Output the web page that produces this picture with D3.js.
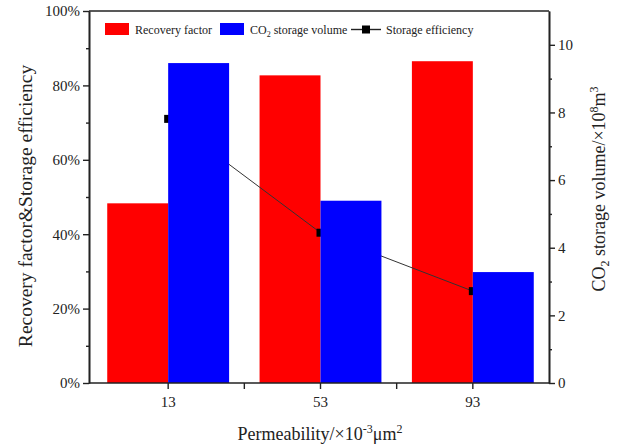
<!DOCTYPE html>
<html>
<head>
<meta charset="utf-8">
<script src="https://cdn.jsdelivr.net/npm/d3@7"></script>
<style>
  body { margin: 0; background: #fff; }
  svg text { font-family: "Liberation Serif", "Times New Roman", serif; fill: #222; }
</style>
</head>
<body>
<script>
const CATEGORIES = ['13', '53', '93'];
const RECOVERY = [48.3, 82.7, 86.5];        // %
const CO2_VOLUME = [9.46, 5.39, 3.28];      // x10^8 m^3
const EFFICIENCY = [71.0, 40.4, 24.7];      // %
const LEFT_TICKS = [0, 20, 40, 60, 80, 100];
const RIGHT_TICKS = [0, 2, 4, 6, 8, 10];

const SVG_DIM = {W: 617, H: 447};
const PLOT = {LEFT: 89, RIGHT: 549, TOP: 11, BOTTOM: 383};

const svg = d3.select('body').append('svg')
    .attr('width', SVG_DIM.W)
    .attr('height', SVG_DIM.H);

// categories sit slightly right of centre in the original
const x = d3.scaleBand()
    .domain(CATEGORIES)
    .range([PLOT.LEFT + 3, PLOT.RIGHT]);

const barW = x.bandwidth() * 0.4;

const yLeft = d3.scaleLinear().domain([0, 100]).range([PLOT.BOTTOM, PLOT.TOP]);
const yRight = d3.scaleLinear().domain([0, 11]).range([PLOT.BOTTOM, PLOT.TOP]);

const cx = d => x(d) + x.bandwidth() / 2;

// red bars first
svg.append('g').selectAll('rect')
    .data(RECOVERY)
    .enter()
    .append('rect')
    .attr('x', (d, i) => cx(CATEGORIES[i]) - barW)
    .attr('y', d => yLeft(d))
    .attr('width', barW)
    .attr('height', d => yLeft(0) - yLeft(d))
    .attr('fill', '#ff0000');

// efficiency line, drawn under the blue bars
const line = d3.line()
    .x((d, i) => cx(CATEGORIES[i]))
    .y(d => yLeft(d));

svg.append('path')
    .datum(EFFICIENCY)
    .attr('d', line)
    .attr('fill', 'none')
    .attr('stroke', '#333')
    .attr('stroke-width', 1);

svg.append('g').selectAll('rect')
    .data(EFFICIENCY)
    .enter()
    .append('rect')
    .attr('x', (d, i) => cx(CATEGORIES[i]) - 4)
    .attr('y', d => yLeft(d) - 4)
    .attr('width', 8)
    .attr('height', 8)
    .attr('fill', '#000');

// blue bars
svg.append('g').selectAll('rect')
    .data(CO2_VOLUME)
    .enter()
    .append('rect')
    .attr('x', (d, i) => cx(CATEGORIES[i]))
    .attr('y', d => yRight(d))
    .attr('width', barW)
    .attr('height', d => yRight(0) - yRight(d))
    .attr('fill', '#0000ff');

// axes
const leftAxis = d3.axisLeft(yLeft)
    .tickValues(LEFT_TICKS)
    .tickFormat(d => d + '%')
    .tickSize(6)
    .tickSizeOuter(0);
const leftMinor = d3.axisLeft(yLeft)
    .tickValues(d3.range(10, 100, 20))
    .tickFormat('')
    .tickSize(3)
    .tickSizeOuter(0);

const rightAxis = d3.axisRight(yRight)
    .tickValues(RIGHT_TICKS)
    .tickSize(6)
    .tickSizeOuter(0);
const rightMinor = d3.axisRight(yRight)
    .tickValues(d3.range(1, 11, 2))
    .tickFormat('')
    .tickSize(3)
    .tickSizeOuter(0);

const bottomAxis = d3.axisBottom(x)
    .tickSize(6)
    .tickSizeOuter(0);

const styleAxis = g => {
    g.select('.domain').attr('stroke', '#222').attr('stroke-width', 1.6);
    g.selectAll('.tick line').attr('stroke', '#222').attr('stroke-width', 1.4);
    g.selectAll('.tick text').attr('font-size', 15).attr('fill', '#222')
        .style('font-family', '"Liberation Serif", "Times New Roman", serif');
};

svg.append('g').attr('transform', 'translate(' + PLOT.LEFT + ',0)').call(leftAxis).call(styleAxis);
svg.append('g').attr('transform', 'translate(' + PLOT.LEFT + ',0)').call(leftMinor).call(styleAxis);
svg.append('g').attr('transform', 'translate(' + PLOT.RIGHT + ',0)').call(rightAxis).call(styleAxis);
svg.append('g').attr('transform', 'translate(' + PLOT.RIGHT + ',0)').call(rightMinor).call(styleAxis);

const bottom = svg.append('g')
    .attr('transform', 'translate(0,' + PLOT.BOTTOM + ')')
    .call(bottomAxis)
    .call(styleAxis);
bottom.select('.domain').attr('d', 'M' + PLOT.LEFT + ',0H' + PLOT.RIGHT);
bottom.selectAll('.tick text').attr('dy', '1.0em');

// minor x ticks between categories
svg.append('g').selectAll('line')
    .data(CATEGORIES.slice(1))
    .enter()
    .append('line')
    .attr('x1', d => x(d)).attr('x2', d => x(d))
    .attr('y1', PLOT.BOTTOM).attr('y2', PLOT.BOTTOM + 6)
    .attr('stroke', '#222').attr('stroke-width', 1.4);

// top border
svg.append('line')
    .attr('x1', PLOT.LEFT).attr('x2', PLOT.RIGHT)
    .attr('y1', PLOT.TOP).attr('y2', PLOT.TOP)
    .attr('stroke', '#222').attr('stroke-width', 1.6);

// axis titles
svg.append('text')
    .attr('transform', 'translate(32,206) rotate(-90)')
    .attr('text-anchor', 'middle')
    .attr('font-size', 19.5)
    .text('Recovery factor&Storage efficiency');

const rt = svg.append('text')
    .attr('transform', 'translate(605,189) rotate(-90)')
    .attr('text-anchor', 'middle')
    .attr('font-size', 18);
rt.append('tspan').text('CO');
rt.append('tspan').attr('font-size', 12).attr('dy', 4).text('2');
rt.append('tspan').attr('dy', -4).text(' storage volume/×10');
rt.append('tspan').attr('font-size', 12).attr('dy', -7).text('8');
rt.append('tspan').attr('dy', 7).text('m');
rt.append('tspan').attr('font-size', 12).attr('dy', -7).text('3');

const bt = svg.append('text')
    .attr('x', 320)
    .attr('y', 440)
    .attr('text-anchor', 'middle')
    .attr('font-size', 18);
bt.append('tspan').text('Permeability/×10');
bt.append('tspan').attr('font-size', 12).attr('dy', -7).text('-3');
bt.append('tspan').attr('dy', 7).text('μm');
bt.append('tspan').attr('font-size', 12).attr('dy', -7).text('2');

// legend
const legend = svg.append('g').attr('class', 'legend');
legend.append('rect').attr('x', 105).attr('y', 23).attr('width', 24).attr('height', 12).attr('fill', '#ff0000');
legend.append('text').attr('x', 135).attr('y', 34).attr('font-size', 12).text('Recovery factor');
legend.append('rect').attr('x', 220).attr('y', 23).attr('width', 24).attr('height', 12).attr('fill', '#0000ff');
const lt = legend.append('text').attr('x', 250).attr('y', 34).attr('font-size', 12);
lt.append('tspan').text('CO');
lt.append('tspan').attr('font-size', 8).attr('dy', 3).text('2');
lt.append('tspan').attr('dy', -3).text(' storage volume');
legend.append('line').attr('x1', 351).attr('x2', 381).attr('y1', 29.5).attr('y2', 29.5)
    .attr('stroke', '#222').attr('stroke-width', 1.4);
legend.append('rect').attr('x', 362).attr('y', 25.5).attr('width', 8).attr('height', 8).attr('fill', '#000');
legend.append('text').attr('x', 386).attr('y', 34).attr('font-size', 12).text('Storage efficiency');
</script>
</body>
</html>
